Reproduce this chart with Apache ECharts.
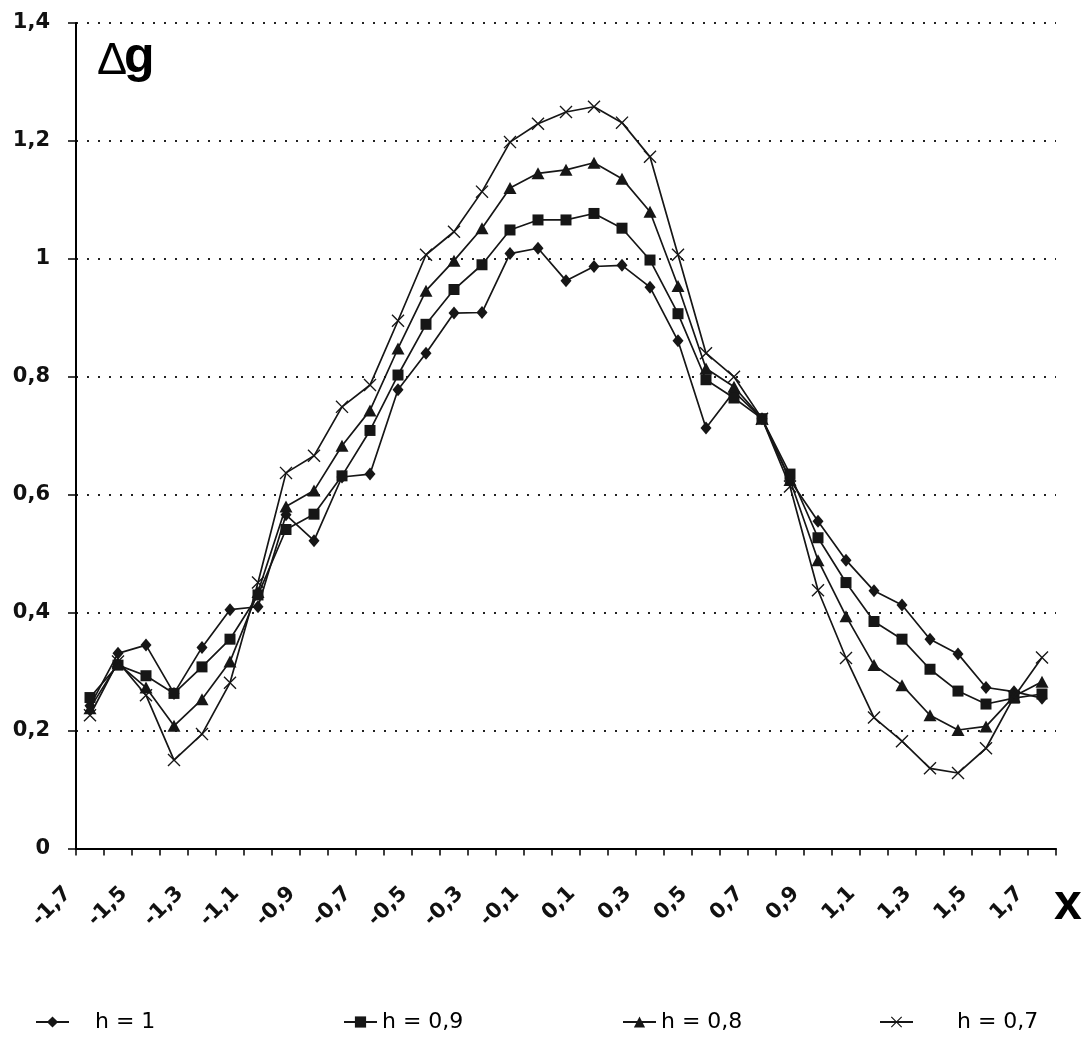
<!DOCTYPE html>
<html>
<head>
<meta charset="utf-8">
<script src="https://cdn.jsdelivr.net/npm/echarts@6/dist/echarts.min.js"></script>
<style>
html,body{margin:0;padding:0;background:#fff;}
#chart{width:1082px;height:1047px;}
</style>
</head>
<body>
<div id="chart"></div>
<script>
// x categories (x = -1.7 ... 1.7, step 0.1)
const categories = ['-1,7','-1,6','-1,5','-1,4','-1,3','-1,2','-1,1','-1','-0,9','-0,8','-0,7','-0,6','-0,5','-0,4','-0,3','-0,2','-0,1','0','0,1','0,2','0,3','0,4','0,5','0,6','0,7','0,8','0,9','1','1,1','1,2','1,3','1,4','1,5','1,6','1,7'];

const seriesNames = ['h = 1', 'h = 0,9', 'h = 0,8', 'h = 0,7'];

const h10 = [0.242,0.331,0.345,0.263,0.341,0.405,0.410,0.566,0.522,0.630,0.635,0.778,0.840,0.908,0.909,1.009,1.018,0.963,0.987,0.989,0.952,0.861,0.713,0.775,0.729,0.625,0.555,0.489,0.437,0.413,0.355,0.330,0.273,0.266,0.255];
const h09 = [0.256,0.311,0.293,0.263,0.308,0.355,0.430,0.541,0.567,0.632,0.709,0.803,0.889,0.948,0.990,1.049,1.066,1.066,1.077,1.052,0.998,0.907,0.795,0.764,0.729,0.635,0.527,0.451,0.385,0.355,0.304,0.267,0.245,0.255,0.262];
const h08 = [0.238,0.314,0.273,0.208,0.253,0.317,0.435,0.580,0.607,0.683,0.743,0.848,0.946,0.997,1.052,1.120,1.145,1.151,1.163,1.136,1.080,0.954,0.814,0.783,0.729,0.625,0.489,0.394,0.311,0.277,0.226,0.201,0.207,0.258,0.283];
const h07 = [0.226,0.317,0.260,0.150,0.194,0.281,0.451,0.637,0.666,0.749,0.786,0.895,1.007,1.046,1.114,1.198,1.229,1.249,1.258,1.231,1.173,1.007,0.840,0.800,0.729,0.614,0.438,0.323,0.222,0.182,0.136,0.128,0.170,0.257,0.324];

const yTicks = [0, 0.2, 0.4, 0.6, 0.8, 1, 1.2, 1.4];

const INK = '#161616';
const crossPath = 'path://M0,1.5L1.5,0L10,8.5L18.5,0L20,1.5L11.5,10L20,18.5L18.5,20L10,11.5L1.5,20L0,18.5L8.5,10Z';

const symbols = [
  {symbol: 'diamond', size: [11, 13]},
  {symbol: 'rect', size: 11},
  {symbol: 'triangle', size: [13, 12]},
  {symbol: crossPath, size: 13}
];
const dataSets = [h10, h09, h08, h07];

const chart = echarts.init(document.getElementById('chart'), null, {renderer: 'canvas'});

const legendPos = [
  {left: 30, pad: 21},
  {left: 338, pad: 0},
  {left: 617, pad: 0},
  {left: 874, pad: 39}
];

const option = {
  animation: false,
  backgroundColor: '#ffffff',
  grid: {left: 76, right: 26, top: 23, bottom: 198.5, containLabel: false},
  legend: seriesNames.map((n, i) => ({
    data: [n],
    left: legendPos[i].left,
    top: 1006,
    itemWidth: 33,
    itemHeight: 14,
    selectedMode: false,
    textStyle: {
      fontFamily: 'DejaVu Sans', fontSize: 22, color: '#000',
      padding: [0, 0, 0, legendPos[i].pad]
    }
  })),
  xAxis: {
    type: 'category',
    data: categories,
    boundaryGap: true,
    axisLine: {show: true, lineStyle: {color: '#000', width: 2}},
    axisTick: {show: true, interval: 0, length: 7, lineStyle: {color: '#000', width: 1.5}},
    axisLabel: {
      interval: 1,
      rotate: 45,
      margin: 20,
      fontFamily: 'DejaVu Sans',
      fontWeight: 'bold',
      fontSize: 21,
      color: '#111',
      formatter: v => '{a|' + v + '}',
      rich: {a: {fontFamily: 'DejaVu Sans', fontWeight: 'bold', fontSize: 21, color: '#111', padding: [0, 31, 0, 0]}}
    },
    splitLine: {show: false}
  },
  yAxis: {
    type: 'value',
    min: 0,
    max: 1.4,
    interval: 0.2,
    axisLine: {show: true, lineStyle: {color: '#000', width: 2}},
    axisTick: {show: true, length: 8, lineStyle: {color: '#000', width: 1.5}},
    axisLabel: {
      margin: 26,
      fontFamily: 'DejaVu Sans',
      fontWeight: 'bold',
      fontSize: 21,
      color: '#111',
      formatter: v => {
        const r = Math.round(v * 10) / 10;
        return yTicks.indexOf(r) >= 0 ? String(r).replace('.', ',') : '';
      }
    },
    splitLine: {show: true, lineStyle: {color: '#222', width: 2, type: [2, 9]}}
  },
  graphic: [
    {type: 'text', left: 97, top: 39, style: {text: 'Δ', font: 'normal 45px "Liberation Sans"', fill: '#000'}},
    {type: 'text', left: 124, top: 33, style: {text: 'g', font: 'bold 50px "Liberation Sans"', fill: '#000'}},
    {type: 'text', left: 1054, top: 880, style: {text: 'x', font: 'bold 50px "Liberation Sans"', fill: '#000'}}
  ],
  series: seriesNames.map((n, i) => ({
    name: n,
    type: 'line',
    data: dataSets[i],
    symbol: symbols[i].symbol,
    symbolSize: symbols[i].size,
    showAllSymbol: true,
    lineStyle: {color: INK, width: 1.7},
    itemStyle: {color: INK, borderWidth: 0},
    emphasis: {disabled: true},
    z: 2 + i
  }))
};

chart.setOption(option);
</script>
</body>
</html>
